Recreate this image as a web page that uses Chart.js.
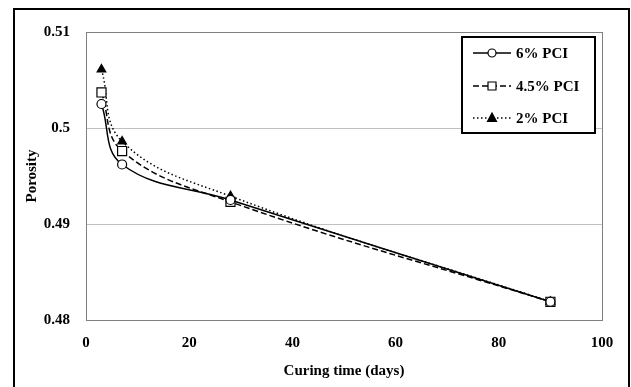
<!DOCTYPE html>
<html>
<head>
<meta charset="utf-8">
<script src="https://cdn.jsdelivr.net/npm/chart.js@4.4.1/dist/chart.umd.min.js"></script>
<style>
html,body{margin:0;padding:0;background:#fff;}
canvas{display:block;}
</style>
</head>
<body>
<canvas id="c" width="631" height="387"></canvas>
<script>
const days = [3, 7, 28, 90];
const pci6 = [0.5025, 0.4962, 0.4925, 0.4819];
const pci45 = [0.5037, 0.4976, 0.4923, 0.4819];
const pci2 = [0.5061, 0.4986, 0.4929, 0.4819];
const seriesNames = ['6% PCI', '4.5% PCI', '2% PCI'];
const xTicks = [0, 20, 40, 60, 80, 100];
const yTicks = [0.48, 0.49, 0.5, 0.51];
const yTickLabels = ['0.48', '0.49', '0.5', '0.51'];
const xTitle = 'Curing time (days)';
const yTitle = 'Porosity';

const FONT = '"Liberation Serif", "Times New Roman", serif';

function pts(vals) { return days.map((d, i) => ({x: d, y: vals[i]})); }

const styles = [
  {dash: [], point: 'circle', radius: 4.5, fill: '#ffffff'},
  {dash: [6, 3], point: 'rect', radius: 6.4, fill: '#ffffff'},
  {dash: [1.5, 2.5], point: 'triangle', radius: 5, fill: '#000000'}
];
const allVals = [pci6, pci45, pci2];

const datasets = allVals.map((v, i) => ({
  label: seriesNames[i],
  data: pts(v),
  borderColor: '#000',
  borderWidth: 1.5,
  borderDash: styles[i].dash,
  pointStyle: styles[i].point,
  pointRadius: styles[i].radius,
  pointBackgroundColor: styles[i].fill,
  pointBorderColor: '#000',
  pointBorderWidth: 1.2,
  tension: 0.4,
  fill: false
}));

const framePlugin = {
  id: 'frame',
  beforeDraw(chart) {
    const c = chart.ctx;
    c.save();
    c.fillStyle = '#fff';
    c.fillRect(0, 0, chart.width, chart.height);
    c.restore();
  },
  beforeDatasetsDraw(chart) {
    const c = chart.ctx, a = chart.chartArea;
    c.save();
    c.strokeStyle = '#808080';
    c.lineWidth = 1;
    c.strokeRect(Math.round(a.left) + 0.5, Math.round(a.top) + 0.5, Math.round(a.right - a.left), Math.round(a.bottom - a.top));
    c.restore();
  },
  afterDraw(chart) {
    const c = chart.ctx;
    c.save();
    // outer frame
    c.strokeStyle = '#000';
    c.lineWidth = 2;
    c.strokeRect(14, 9, 615, 400);
    // legend
    const bx = 462, by = 37, bw = 133, bh = 96;
    c.fillStyle = '#fff';
    c.fillRect(bx, by, bw, bh);
    c.lineWidth = 2;
    c.strokeRect(bx, by, bw, bh);
    const rows = [53, 86, 118];
    c.font = 'bold 15px ' + FONT;
    c.textBaseline = 'middle';
    c.textAlign = 'left';
    seriesNames.forEach((name, i) => {
      const y = rows[i];
      c.strokeStyle = '#000';
      c.lineWidth = 1.5;
      c.setLineDash(styles[i].dash);
      c.beginPath();
      c.moveTo(473, y);
      c.lineTo(511, y);
      c.stroke();
      c.setLineDash([]);
      c.lineWidth = 1.2;
      c.fillStyle = styles[i].fill;
      const mx = 492;
      c.beginPath();
      if (styles[i].point === 'circle') {
        c.arc(mx, y, 4, 0, Math.PI * 2);
      } else if (styles[i].point === 'rect') {
        c.rect(mx - 4, y - 4, 8, 8);
      } else {
        c.moveTo(mx, y - 5);
        c.lineTo(mx + 4.5, y + 3.5);
        c.lineTo(mx - 4.5, y + 3.5);
        c.closePath();
      }
      c.fill();
      c.stroke();
      c.fillStyle = '#000';
      c.fillText(name, 516, y + 1);
    });
    c.restore();
  }
};

new Chart(document.getElementById('c'), {
  type: 'line',
  data: {datasets},
  options: {
    responsive: false,
    animation: false,
    devicePixelRatio: 1,
    layout: {padding: {left: 0, top: 32, right: 29, bottom: 0}},
    plugins: {legend: {display: false}, tooltip: {enabled: false}},
    scales: {
      x: {
        type: 'linear', min: 0, max: 100,
        afterBuildTicks(s) { s.ticks = xTicks.map(v => ({value: v})); },
        afterFit(s) { s.height = 67; },
        grid: {display: false, drawTicks: false},
        border: {display: false},
        ticks: {color: '#000', font: {family: FONT, size: 15, weight: 'bold'}, padding: 14, maxRotation: 0,
          callback: (v) => String(v)},
        title: {display: true, text: xTitle, color: '#000', font: {family: FONT, size: 15, weight: 'bold'}, padding: {top: 0, bottom: 7}}
      },
      y: {
        type: 'linear', min: 0.48, max: 0.51,
        afterBuildTicks(s) { s.ticks = yTicks.map(v => ({value: v})); },
        afterFit(s) { s.width = 86; },
        grid: {drawTicks: false, color: (ctx) => (ctx.tick && (Math.abs(ctx.tick.value - 0.49) < 1e-6 || Math.abs(ctx.tick.value - 0.5) < 1e-6)) ? '#c0c0c0' : 'rgba(0,0,0,0)', lineWidth: 1},
        border: {display: false},
        ticks: {color: '#000', font: {family: FONT, size: 15, weight: 'bold'}, padding: 16,
          callback: (v) => yTickLabels[yTicks.findIndex(t => Math.abs(t - v) < 1e-6)]},
        title: {display: true, text: yTitle, color: '#000', font: {family: FONT, size: 15, weight: 'bold'}, padding: {top: 23, bottom: 0}}
      }
    }
  },
  plugins: [framePlugin]
});
</script>
</body>
</html>
